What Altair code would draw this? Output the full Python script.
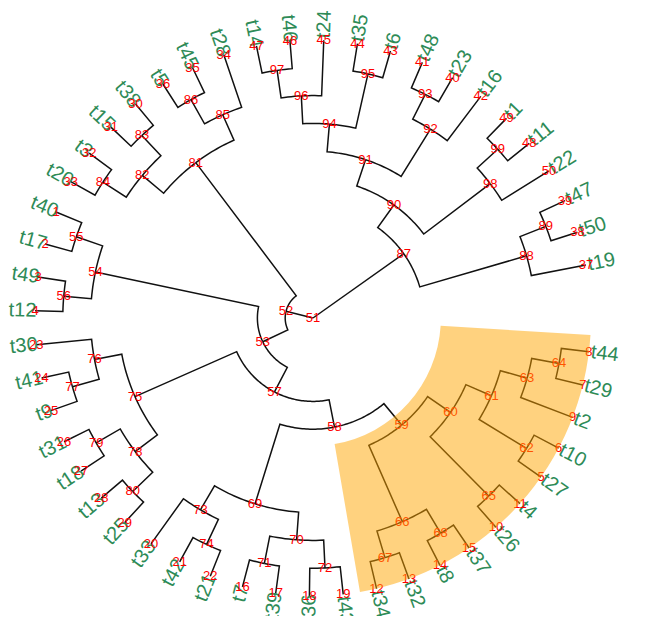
import math
import altair as alt
import pandas as pd

# ---------------- data ----------------
# tree topology (parent -> child), ape-style node numbers (tips 1..50, internal 51..99)
parents = [51, 51, 52, 52, 53, 53, 54, 54, 55, 55, 56, 56, 57, 57, 75, 75, 76, 76, 77, 77,
           78, 78, 79, 79, 80, 80, 58, 58, 69, 69, 73, 73, 74, 74, 70, 70, 71, 71, 72, 72,
           59, 59, 66, 66, 67, 67, 68, 68, 60, 60, 65, 65, 61, 61, 62, 62, 63, 63, 64, 64,
           87, 87, 88, 88, 89, 89, 90, 90, 98, 98, 99, 99, 91, 91, 92, 92, 93, 93,
           94, 94, 95, 95, 96, 96, 97, 97, 81, 81, 85, 85, 86, 86, 82, 82, 83, 83, 84, 84]
children = [52, 87, 81, 53, 54, 57, 55, 56, 1, 2, 3, 4, 75, 58, 76, 78, 23, 77, 24, 25,
            79, 80, 26, 27, 28, 29, 69, 59, 73, 70, 20, 74, 21, 22, 71, 72, 16, 17, 18, 19,
            66, 60, 67, 68, 12, 13, 14, 15, 65, 61, 10, 11, 62, 63, 5, 6, 9, 64, 7, 8,
            88, 90, 37, 89, 38, 39, 98, 91, 50, 99, 48, 49, 92, 94, 42, 93, 40, 41,
            95, 96, 43, 44, 45, 97, 46, 47, 85, 82, 34, 86, 35, 36, 83, 84, 30, 31, 32, 33]

# tip labels, indexed by tip number 1..50
tip_labels = ["t40", "t17", "t49", "t12", "t27", "t10", "t29", "t44", "t2", "t26",
              "t4", "t34", "t32", "t8", "t37", "t7", "t39", "t36", "t43", "t33",
              "t42", "t21", "t30", "t41", "t9", "t31", "t18", "t13", "t25", "t38",
              "t15", "t3", "t20", "t28", "t45", "t5", "t19", "t50", "t47", "t23",
              "t48", "t16", "t6", "t35", "t24", "t46", "t14", "t11", "t1", "t22"]

# tip numbers in drawing order (counter-clockwise)
tip_order = [37, 38, 39, 50, 48, 49, 42, 40, 41, 43, 44, 45, 46, 47, 34, 35, 36, 30, 31, 32,
             33, 1, 2, 3, 4, 23, 24, 25, 26, 27, 28, 29, 20, 21, 22, 16, 17, 18, 19, 12,
             13, 14, 15, 10, 11, 5, 6, 9, 7, 8]

highlight_node = 59

# ---------------- layout settings ----------------
A0 = 11.0        # angle of first tip (deg, ccw from east)
STEP = 6.98      # degrees per tip slot
PX = 27.8        # pixels per tree-depth unit
W, H = 629, 608
CX, CY = 305, 310
OFF_R = 0.07
OFF_L = -0.05
HL_INNER = 4.6

# ---------------- compute tree coordinates ----------------
kids = {}
for p, c in zip(parents, children):
    kids.setdefault(p, []).append(c)
root = 51

height = {}
def get_h(n):
    if n in height:
        return height[n]
    hh = 0 if n not in kids else 1 + max(get_h(c) for c in kids[n])
    height[n] = hh
    return hh
HMAX = get_h(root)

ypos = {t: i for i, t in enumerate(tip_order)}
def get_y(n):
    if n in ypos:
        return ypos[n]
    v = sum(get_y(c) for c in kids[n]) / len(kids[n])
    ypos[n] = v
    return v
get_y(root)

def xdepth(n):
    return HMAX - height[n]

def ang(n):
    return A0 + STEP * ypos[n]

def cart(r, a):
    return r * math.cos(math.radians(a)), r * math.sin(math.radians(a))

rows = []
for e, (p, c) in enumerate(zip(parents, children)):
    rp, rc = xdepth(p), xdepth(c)
    ap, ac = ang(p), ang(c)
    n = max(2, int(abs(ac - ap) / 1.0) + 2)
    k = 0
    for i in range(n):
        a = ap + (ac - ap) * i / (n - 1)
        X, Y = cart(rp, a)
        rows.append({"edge": e, "k": k, "X": X, "Y": Y}); k += 1
    X, Y = cart(rc, ac)
    rows.append({"edge": e, "k": k, "X": X, "Y": Y})
edges_df = pd.DataFrame(rows)

node_rows = []
for n in range(51, 100):
    X, Y = cart(xdepth(n), ang(n))
    node_rows.append({"X": X, "Y": Y, "lab": str(n)})
nodes_df = pd.DataFrame(node_rows)

tipnum_rows, tip_rows = [], []
for t in tip_order:
    a = ang(t)
    X, Y = cart(xdepth(t), a)
    tipnum_rows.append({"X": X, "Y": Y, "lab": str(t)})
    am = a % 360
    right = (am < 90) or (am > 270)
    Xl, Yl = cart(xdepth(t) + (OFF_R if right else OFF_L), a)
    rot = (-am) % 360 if right else (180 - am) % 360
    tip_rows.append({"X": Xl, "Y": Yl, "lab": tip_labels[t - 1], "rot": rot,
                     "side": "R" if right else "L"})
tipnum_df = pd.DataFrame(tipnum_rows)
tips_df = pd.DataFrame(tip_rows)

# highlight wedge for the clade of highlight_node
def clade_tips(n):
    if n not in kids:
        return [n]
    out = []
    for c in kids[n]:
        out += clade_tips(c)
    return out
ct = clade_tips(highlight_node)
amin = min(ang(t) for t in ct) - STEP / 2
amax = max(ang(t) for t in ct) + STEP / 2
t1 = math.radians((90 - amax) % 360)
t2 = math.radians((90 - amin) % 360)
if t2 < t1:
    t2 += 2 * math.pi
hl_df = pd.DataFrame([{"t1": t1, "t2": t2,
                       "r1": HL_INNER * PX, "r2": HMAX * PX}])

# ---------------- chart ----------------
xs = alt.Scale(domain=[-CX / PX, (W - CX) / PX], nice=False, zero=False)
ys = alt.Scale(domain=[-(H - CY) / PX, CY / PX], nice=False, zero=False)
X_ = alt.X("X:Q", scale=xs, axis=None)
Y_ = alt.Y("Y:Q", scale=ys, axis=None)

lines = alt.Chart(edges_df).mark_line(color="#111111", strokeWidth=1.5).encode(
    x=X_, y=Y_, detail="edge:N", order="k:Q")

node_txt = alt.Chart(nodes_df).mark_text(
    fontSize=13, color="red", font="Liberation Sans", align="center", baseline="middle"
).encode(x=X_, y=Y_, text="lab:N")

tipnum_txt = alt.Chart(tipnum_df).mark_text(
    fontSize=13, color="red", font="Liberation Sans", align="center", baseline="middle"
).encode(x=X_, y=Y_, text="lab:N")

tipR = alt.Chart(tips_df[tips_df.side == "R"]).mark_text(
    fontSize=20, color="#2E8B57", font="Liberation Sans", align="left", baseline="middle"
).encode(x=X_, y=Y_, text="lab:N", angle=alt.Angle("rot:Q", scale=None))

tipL = alt.Chart(tips_df[tips_df.side == "L"]).mark_text(
    fontSize=20, color="#2E8B57", font="Liberation Sans", align="right", baseline="middle"
).encode(x=X_, y=Y_, text="lab:N", angle=alt.Angle("rot:Q", scale=None))

wedge = alt.Chart(hl_df).mark_arc(color="orange", opacity=0.5).encode(
    x=alt.datum(0), y=alt.datum(0),
    theta=alt.Theta("t1:Q", scale=None, stack=None),
    theta2="t2:Q",
    radius=alt.Radius("r2:Q", scale=None),
    radius2="r1:Q",
)

chart = alt.layer(lines, tipR, tipL, tipnum_txt, node_txt, wedge).properties(
    width=W, height=H, padding=0,
    autosize=alt.AutoSizeParams(type="none"),
    background="white",
).configure_view(stroke=None)

chart.save("out.html", embed_options={"renderer": "svg", "actions": False})
